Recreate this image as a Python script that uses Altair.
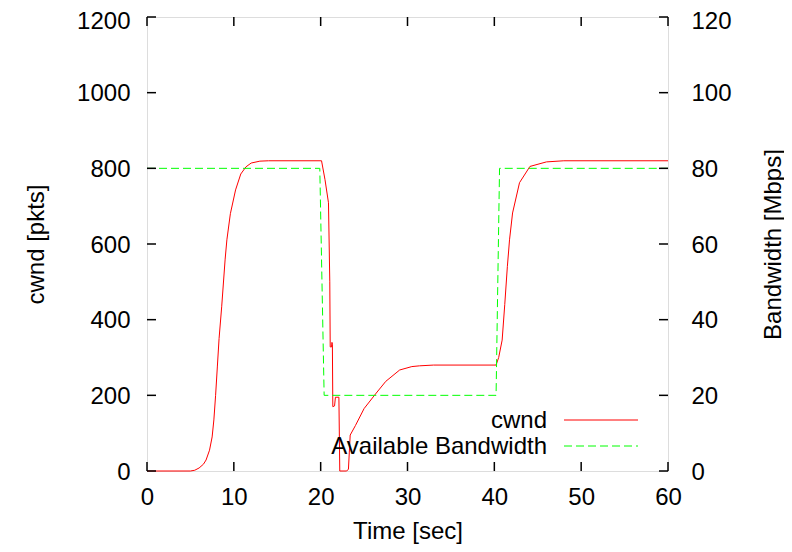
import altair as alt
import pandas as pd

# ---- data ----
t_cwnd = [0, 5.0, 5.5, 6.0, 6.5, 6.8, 7.2, 7.5, 7.7, 7.9, 8.1, 8.3, 8.6, 9.0, 9.2, 9.6,
          10.2, 10.8, 11.4, 12.0, 13.0, 14.0, 20.1, 20.5, 20.9, 21.05, 21.1, 21.25, 21.3,
          21.35, 21.4, 21.6, 21.7, 22.1, 22.2, 23.0, 23.2, 23.3, 23.4, 24.0, 25.0, 26.4,
          27.5, 29.1, 30.5, 31.4, 33.0, 40.2, 40.5, 40.9, 41.2, 41.5, 41.75, 42.1, 42.9,
          44.1, 46.0, 48.0, 60.0]
cwnd = [0, 0, 2, 8, 18, 29, 55, 90, 135, 200, 275, 350, 434, 560, 611, 680,
        743, 785, 804, 814, 819, 820, 820, 770, 709, 500, 328, 328, 340,
        335, 170, 172, 195, 195, 0, 0, 5, 50, 95, 120, 165, 206,
        237, 267, 276, 278, 280, 280, 300, 346, 440, 540, 611, 682, 762,
        805, 817, 820, 820]

t_bw = [0, 19.9, 20.4, 40.2, 40.6, 60]
bw = [80, 80, 20, 20, 80, 80]

x_ticks = [0, 10, 20, 30, 40, 50, 60]
y_ticks = [0, 200, 400, 600, 800, 1000, 1200]
y2_ticks = [0, 20, 40, 60, 80, 100, 120]

legend_labels = ["cwnd", "Available Bandwidth"]

# ---- layout ----
W, H = 521, 454
FONT = "Liberation Sans"
FS = 24

df_c = pd.DataFrame({"t": t_cwnd, "cwnd": cwnd})
df_b = pd.DataFrame({"t": t_bw, "bw": bw})
df_xt = pd.DataFrame({"v": x_ticks})
df_yt = pd.DataFrame({"v": y_ticks})

xscale = alt.Scale(domain=[0, 60], nice=False, zero=False)
yscale = alt.Scale(domain=[0, 1200], nice=False)
y2scale = alt.Scale(domain=[0, 120], nice=False)

common = dict(ticks=False, domain=False, grid=False, format="d", labelFlush=False,
              labelFont=FONT, labelFontSize=FS, labelColor="black",
              titleFont=FONT, titleFontSize=FS, titleFontWeight="normal", titleColor="black",
              labelOverlap=False)

xaxis = alt.Axis(values=x_ticks, title="Time [sec]", labelPadding=14,
                 titleY=60, titleBaseline="middle", titleAlign="center", titleX=W / 2, **common)
yaxis = alt.Axis(values=y_ticks, title="cwnd [pkts]", labelPadding=17,
                 labelOffset={"condition": {"test": "datum.value == 1200", "value": 4}, "value": 1},
                 titleAngle=270, titleX=-111, titleY=H / 2, titleBaseline="middle",
                 titleAlign="center", **common)
y2axis = alt.Axis(values=y2_ticks, title="Bandwidth [Mbps]", orient="right", labelPadding=23,
                  labelOffset={"condition": {"test": "datum.value == 120", "value": 4}, "value": 1},
                  titleAngle=270, titleX=105, titleY=H / 2,
                  titleBaseline="middle", titleAlign="center", **common)

cw_line = alt.Chart(df_c).mark_line(color="#ff0000", strokeWidth=1).encode(
    x=alt.X("t:Q", scale=xscale, axis=xaxis),
    y=alt.Y("cwnd:Q", scale=yscale, axis=yaxis),
)
bw_line = alt.Chart(df_b).mark_line(color="#00ff00", strokeWidth=1, strokeDash=[8, 4]).encode(
    x=alt.X("t:Q", scale=xscale),
    y=alt.Y("bw:Q", scale=y2scale, axis=y2axis),
)

tick_style = dict(color="black", strokeWidth=1.5)
lt = alt.Chart(df_yt).mark_rule(**tick_style).encode(
    y=alt.Y("v:Q", scale=yscale, axis=None), x=alt.value(0), x2=alt.value(9))
rt = alt.Chart(df_yt).mark_rule(**tick_style).encode(
    y=alt.Y("v:Q", scale=yscale, axis=None), x=alt.value(W - 9), x2=alt.value(W))
bt = alt.Chart(df_xt).mark_rule(**tick_style).encode(
    x=alt.X("v:Q", scale=xscale), y=alt.value(H - 9), y2=alt.value(H))
tt = alt.Chart(df_xt).mark_rule(**tick_style).encode(
    x=alt.X("v:Q", scale=xscale), y=alt.value(0), y2=alt.value(9))

# legend (drawn inside bottom-right, gnuplot style)
leg1 = alt.Chart(pd.DataFrame({"label": [legend_labels[0]]})).mark_text(
    align="right", baseline="middle", font=FONT, fontSize=FS, color="black").encode(
    x=alt.value(400), y=alt.value(404), text="label:N")
leg2 = alt.Chart(pd.DataFrame({"label": [legend_labels[1]]})).mark_text(
    align="right", baseline="middle", font=FONT, fontSize=FS, color="black").encode(
    x=alt.value(400), y=alt.value(430), text="label:N")
legl1 = alt.Chart(pd.DataFrame({"label": [legend_labels[0]]})).mark_rule(
    color="#ff0000", strokeWidth=1).encode(x=alt.value(417), x2=alt.value(491), y=alt.value(403))
legl2 = alt.Chart(pd.DataFrame({"label": [legend_labels[1]]})).mark_rule(
    color="#00ff00", strokeWidth=1, strokeDash=[8, 4]).encode(
    x=alt.value(417), x2=alt.value(491), y=alt.value(429))

chart = alt.layer(
    cw_line, bw_line, lt, rt, bt, tt, leg1, leg2, legl1, legl2
).resolve_scale(y="independent").properties(
    width=W, height=H,
    autosize=alt.AutoSizeParams(type="none"),
    padding={"left": 139, "top": 9, "right": 116, "bottom": 73},
).configure_view(stroke="black", strokeWidth=1.5).configure(background="white")

chart.save("out.html", embed_options={"renderer": "svg", "actions": False})
